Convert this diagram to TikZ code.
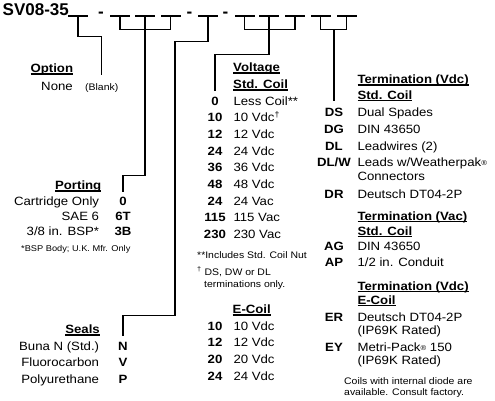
\documentclass[tikz,border=0pt]{standalone}
\usepackage{fontspec}
\setmainfont{Liberation Sans}[FakeStretch=1.1]
\newfontfamily\titlefont{Liberation Sans}
\usepackage{tikz}
\newcommand{\bodysize}{\fontsize{12}{14}\selectfont}
\newcommand{\notesize}{\fontsize{9.5}{11}\selectfont}
\newcommand{\smallnote}{\fontsize{8.4}{10}\selectfont}
\newcommand{\titlesize}{\fontsize{17}{20}\selectfont}
\newcommand{\regmark}{{\fontsize{7}{7}\selectfont\raisebox{1pt}{®}}}
\newsavebox{\ulbox}
\newcommand{\ulhead}[1]{\sbox\ulbox{#1}\rlap{\rule[-2.2pt]{\wd\ulbox}{1.5pt}}\usebox\ulbox}
\tikzset{
  txt/.style={inner sep=0pt,font=\bodysize},
  titletxt/.style={inner sep=0pt,font=\titlesize\titlefont\bfseries,
                   anchor=base west},
  sepdash/.style={inner sep=0pt,font=\titlesize\titlefont\bfseries,
                  anchor=base},
  blankline/.style={fill=black,minimum width=20pt,minimum height=1.4pt,
                    inner sep=0pt},
  codetxt/.style={txt,font=\bodysize\bfseries,anchor=base},
  desctxt/.style={txt,anchor=base west},
  lbltxt/.style={txt,anchor=base east},
  hdr/.style={txt,font=\bodysize\bfseries,anchor=base west},
  hdrr/.style={hdr,anchor=base east},
  notetxt/.style={inner sep=0pt,font=\notesize,anchor=base west},
  conn/.style={line width=1.2pt,line join=miter}
}
\begin{document}
\begin{tikzpicture}[x=1pt,y=-1pt]
  \useasboundingbox (0,0) rectangle (495,400);

  % part number with blanks
  \node[titletxt] (title) at (2.5,15.3) {SV08-35};
  \node[blankline] (b1) at (78,16) {};
  \node[sepdash] (d1) at (101,17.9) {-};
  \node[blankline] (b2) at (120,16) {};
  \node[blankline] (b3) at (145,16) {};
  \node[blankline] (b4) at (170.5,16) {};
  \node[sepdash] (d2) at (189.5,17.9) {-};
  \node[blankline] (b5) at (208,16) {};
  \node[sepdash] (d3) at (225.5,17.9) {-};
  \node[blankline] (b6) at (244.5,16) {};
  \node[blankline] (b7) at (269,16) {};
  \node[blankline] (b8) at (295,16) {};
  \node[blankline] (b9) at (320.5,16) {};
  \node[blankline] (b10) at (346.5,16) {};

  % option
  \node[hdrr] (hopt) at (73.3,72.5) {\ulhead{Option}};
  \node[lbltxt] (lnone) at (73,90.5) {None};
  \node[notetxt] (lblank) at (85,90.5) {(Blank)};

  % porting
  \node[hdrr] (hport) at (101.5,189.3) {\ulhead{Porting}};
  \node[lbltxt] (lcart) at (99.3,205) {Cartridge Only};
  \node[codetxt] (cp0) at (123,205) {0};
  \node[lbltxt] (lsae) at (99.3,220.7) {SAE 6};
  \node[codetxt] (cp6t) at (123,220.7) {6T};
  \node[lbltxt] (lbsp) at (99.3,235.7) {3/8 in. BSP*};
  \node[codetxt] (cp3b) at (123,235.7) {3B};
  \node[notetxt,font=\smallnote] (nbsp) at (21,251.7)
      {*BSP Body; U.K. Mfr. Only};

  % seals
  \node[hdrr] (hseal) at (100,333.3) {\ulhead{Seals}};
  \node[lbltxt] (lbuna) at (99.3,350) {Buna N (Std.)};
  \node[codetxt] (csn) at (123,350) {N};
  \node[lbltxt] (lfluo) at (99.3,366.7) {Fluorocarbon};
  \node[codetxt] (csv) at (123,366.7) {V};
  \node[lbltxt] (lpoly) at (99.3,383.3) {Polyurethane};
  \node[codetxt] (csp) at (123,383.3) {P};

  % voltage, std. coil
  \node[hdr] (hvolt) at (233,71.7) {\ulhead{Voltage}};
  \node[hdr] (hvstd) at (233,88.3) {\ulhead{Std. Coil}};
  \node[codetxt] (cv0) at (215,105) {0};
  \node[desctxt] (dv0) at (233.3,105) {Less Coil**};
  \node[codetxt] (cv10) at (215,121.7) {10};
  \node[desctxt] (dv10) at (233.3,121.7) {10 Vdc\textsuperscript{†}};
  \node[codetxt] (cv12) at (215,138.3) {12};
  \node[desctxt] (dv12) at (233.3,138.3) {12 Vdc};
  \node[codetxt] (cv24) at (215,155) {24};
  \node[desctxt] (dv24) at (233.3,155) {24 Vdc};
  \node[codetxt] (cv36) at (215,171.7) {36};
  \node[desctxt] (dv36) at (233.3,171.7) {36 Vdc};
  \node[codetxt] (cv48) at (215,188.3) {48};
  \node[desctxt] (dv48) at (233.3,188.3) {48 Vdc};
  \node[codetxt] (cv24a) at (215,205) {24};
  \node[desctxt] (dv24a) at (233.3,205) {24 Vac};
  \node[codetxt] (cv115) at (215,221.7) {115};
  \node[desctxt] (dv115) at (233.3,221.7) {115 Vac};
  \node[codetxt] (cv230) at (215,238.3) {230};
  \node[desctxt] (dv230) at (233.3,238.3) {230 Vac};
  \node[notetxt] (nnut) at (197,258.3) {**Includes Std. Coil Nut};
  \node[notetxt] (ndag) at (197,275) {\textsuperscript{†} DS, DW or DL};
  \node[notetxt] (ndag2) at (204,287.3) {terminations only.};

  % voltage, e-coil
  \node[hdr] (hecoil) at (232.5,313.3) {\ulhead{E-Coil}};
  \node[codetxt] (ce10) at (215,330) {10};
  \node[desctxt] (de10) at (233.3,330) {10 Vdc};
  \node[codetxt] (ce12) at (215,346.7) {12};
  \node[desctxt] (de12) at (233.3,346.7) {12 Vdc};
  \node[codetxt] (ce20) at (215,363.3) {20};
  \node[desctxt] (de20) at (233.3,363.3) {20 Vdc};
  \node[codetxt] (ce24) at (215,380) {24};
  \node[desctxt] (de24) at (233.3,380) {24 Vdc};

  % termination
  \node[hdr] (ht1) at (357.3,83.3) {\ulhead{Termination (Vdc)}};
  \node[hdr] (htstd) at (357.3,99) {\ulhead{Std. Coil}};
  \node[codetxt] (cds) at (334,116.7) {DS};
  \node[desctxt] (dds) at (357.3,116.7) {Dual Spades};
  \node[codetxt] (cdg) at (334,133.3) {DG};
  \node[desctxt] (ddg) at (357.3,133.3) {DIN 43650};
  \node[codetxt] (cdl) at (334,150) {DL};
  \node[desctxt] (ddl) at (357.3,150) {Leadwires (2)};
  \node[codetxt] (cdlw) at (334,166.7) {DL/W};
  \node[desctxt] (ddlw) at (357.3,166.7) {Leads w/Weatherpak\regmark};
  \node[desctxt] (ddlw2) at ([yshift=-13.3pt]ddlw.base west) {Connectors};
  \node[codetxt] (cdr) at (334,198.3) {DR};
  \node[desctxt] (ddr) at (357.3,198.3) {Deutsch DT04-2P};
  \node[hdr] (ht2) at (357.3,220) {\ulhead{Termination (Vac)}};
  \node[hdr] (htstd2) at (357.3,235) {\ulhead{Std. Coil}};
  \node[codetxt] (cag) at (334,250.7) {AG};
  \node[desctxt] (dag) at (357.3,250.7) {DIN 43650};
  \node[codetxt] (cap) at (334,266.7) {AP};
  \node[desctxt] (dap) at (357.3,266.7) {1/2 in. Conduit};
  \node[hdr] (ht3) at (357.3,290) {\ulhead{Termination (Vdc)}};
  \node[hdr] (hte) at (357.3,304) {\ulhead{E-Coil}};
  \node[codetxt] (cer) at (334,321) {ER};
  \node[desctxt] (der) at (357.3,321) {Deutsch DT04-2P};
  \node[desctxt] (der2) at ([yshift=-13.3pt]der.base west) {(IP69K Rated)};
  \node[codetxt] (cey) at (334,351) {EY};
  \node[desctxt] (dey) at (357.3,351) {Metri-Pack\regmark{} 150};
  \node[desctxt] (dey2) at ([yshift=-13.3pt]dey.base west) {(IP69K Rated)};
  \node[notetxt] (ndiode) at (344,384) {Coils with internal diode are};
  \node[notetxt] (ndiode2) at (344,395.7) {available. Consult factory.};

  % connectors
  \draw[conn] (b1.south)--++(0,19.3)-|(lblank.north |- hopt.south);
  \draw[conn] (b2.south)--++(0,12.3)-|(b4.south);
  \draw[conn] (b3.south)--++(0,158.3)-|(cp0.north |- hport.south);
  \draw[conn] (b5.south)--++(0,24.3)--++(-33,0)--++(0,274)
      -|(csn.north |- hseal.south);
  \draw[conn] (b6.south)--++(0,12.3)-|(b8.south);
  \draw[conn] (b7.south)--++(0,37.3)-|(cv0.north |- hvstd.south);
  \draw[conn] (b9.south)--++(0,12.3) coordinate (tbar)-|(b10.south);
  \draw[conn] (cds.north |- tbar)--(cds.north |- htstd.south);
\end{tikzpicture}
\end{document}
